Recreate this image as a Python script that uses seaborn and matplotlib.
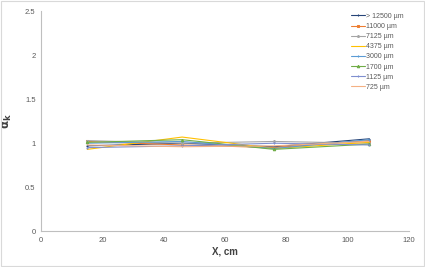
import matplotlib
matplotlib.use("Agg")
import matplotlib.pyplot as plt
import seaborn as sns
import pandas as pd

x_cm = [15, 46, 76, 107]
series_names = ["> 12500 µm", "11000 µm", "7125 µm", "4375 µm",
                "3000 µm", "1700 µm", "1125 µm", "725 µm"]
v_12500 = [0.97, 1.00, 0.96, 1.05]
v_11000 = [1.02, 0.98, 0.95, 1.03]
v_7125 = [1.03, 1.00, 1.02, 1.00]
v_4375 = [0.93, 1.07, 0.94, 1.01]
v_3000 = [1.00, 1.02, 0.94, 1.04]
v_1700 = [1.01, 1.04, 0.93, 0.99]
v_1125 = [0.95, 0.97, 1.00, 0.98]
v_725 = [0.98, 0.96, 0.97, 1.02]
all_vals = [v_12500, v_11000, v_7125, v_4375, v_3000, v_1700, v_1125, v_725]

colors = ["#264478", "#ED7D31", "#A5A5A5", "#FFC000",
          "#5B9BD5", "#70AD47", "#7F8FCF", "#F4B183"]
markers = ["+", "s", "*", "None", "+", "^", "+", "None"]

rows = []
for name, vals in zip(series_names, all_vals):
    for xv, yv in zip(x_cm, vals):
        rows.append({"X": xv, "a": yv, "series": name})
df = pd.DataFrame(rows)

sns.set_style("white")
plt.rcParams["font.family"] = ["Calibri", "Liberation Sans", "DejaVu Sans"]

fig = plt.figure(figsize=(4.25, 2.67), dpi=100)
ax = fig.add_axes([0.097, 0.134, 0.865, 0.824])

for name, c, m in zip(series_names, colors, markers):
    sub = df[df["series"] == name]
    sns.lineplot(data=sub, x="X", y="a", ax=ax, color=c, marker=m,
                 markersize=1.8, linewidth=0.8, label=name,
                 markeredgecolor=c)

ax.set_xlim(0, 120)
ax.set_ylim(0, 2.5)
ax.set_xticks([0, 20, 40, 60, 80, 100, 120])
ax.set_yticks([0, 0.5, 1, 1.5, 2, 2.5])
ax.set_yticklabels(["0", "0.5", "1", "1.5", "2", "2.5"])
ax.tick_params(axis="both", labelsize=5.5, colors="#595959", length=0, pad=4)
for s in ["top", "right"]:
    ax.spines[s].set_visible(False)
for s in ["left", "bottom"]:
    ax.spines[s].set_color("#BFBFBF")
    ax.spines[s].set_linewidth(0.8)

ax.set_xlabel("X, cm", fontsize=7, fontweight="bold", color="#404040", labelpad=2)
ax.set_ylabel(r"$\mathbf{\alpha_k}$", fontsize=8.5, color="#404040", labelpad=8)

leg = ax.legend(loc="upper left", bbox_to_anchor=(0.835, 1.005), frameon=False,
                fontsize=5, handlelength=2.0, handletextpad=0.2,
                labelspacing=0.45, borderaxespad=0)
for t in leg.get_texts():
    t.set_color("#595959")

fig.patches.append(plt.Rectangle((0.002, 0.004), 0.996, 0.992, transform=fig.transFigure,
                                 fill=False, edgecolor="#D9D9D9", linewidth=0.8))

fig.savefig("out.png", dpi=100)
